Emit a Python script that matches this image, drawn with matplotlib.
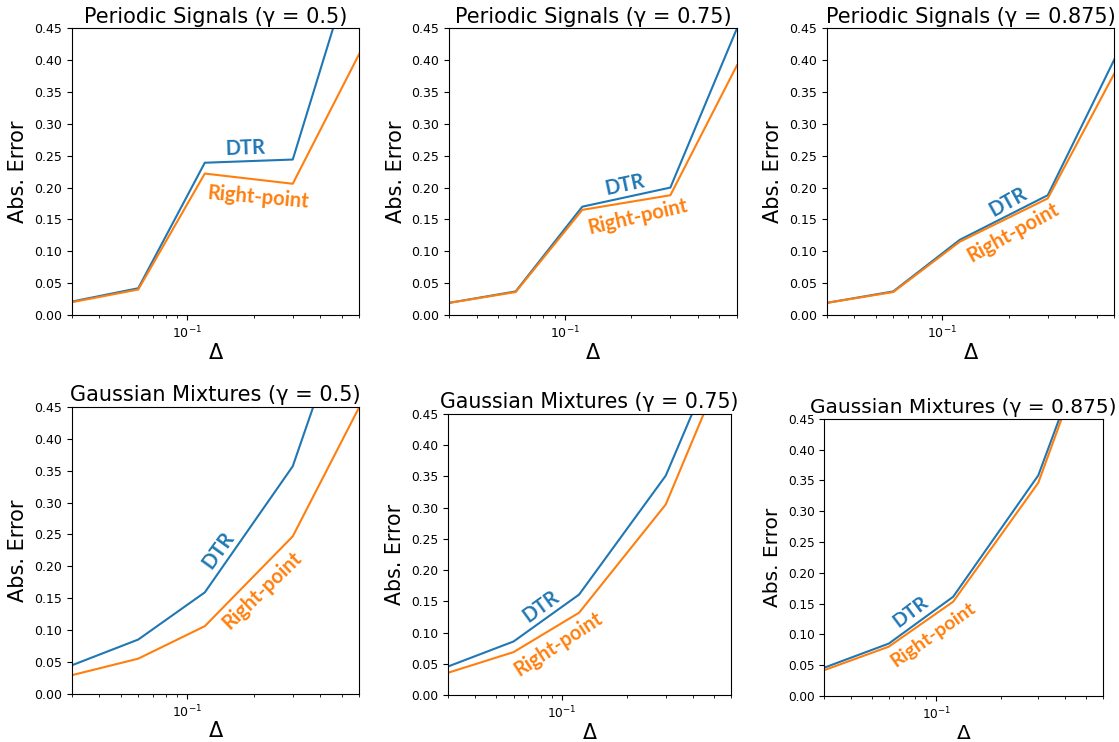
"""
Abs. error of DTR vs right-point rule, periodic signals and Gaussian mixtures.
"""

import matplotlib
matplotlib.use("Agg")
import matplotlib.pyplot as plt
from matplotlib.ticker import NullFormatter

# step sizes on the x axis
delta = [0.03, 0.06, 0.12, 0.3, 0.6]
gammas = ["0.5", "0.75", "0.875"]

# periodic signals
periodic_dtr_050 = [0.021, 0.042, 0.239, 0.244, 0.584]
periodic_rp_050  = [0.020, 0.040, 0.222, 0.206, 0.410]
periodic_dtr_075 = [0.019, 0.037, 0.170, 0.200, 0.450]
periodic_rp_075  = [0.019, 0.036, 0.165, 0.188, 0.392]
periodic_dtr_0875 = [0.019, 0.037, 0.118, 0.188, 0.401]
periodic_rp_0875  = [0.019, 0.036, 0.115, 0.183, 0.379]

# gaussian mixtures
gauss_dtr_050 = [0.0445, 0.085, 0.159, 0.357, 0.660]
gauss_rp_050  = [0.029, 0.055, 0.106, 0.247, 0.450]
gauss_dtr_075 = [0.046, 0.086, 0.161, 0.351, 0.597]
gauss_rp_075  = [0.036, 0.069, 0.132, 0.305, 0.555]
gauss_dtr_0875 = [0.046, 0.085, 0.161, 0.358, 0.640]
gauss_rp_0875  = [0.042, 0.080, 0.153, 0.346, 0.633]

W, H = 1119, 742
BLUE, ORANGE = "#1f77b4", "#ff7f0e"

# (left, right, top, bottom) in pixels, then label placement in axes fraction
panels = [
    ("Periodic Signals", 0, periodic_dtr_050, periodic_rp_050,
     (71.7, 359.3, 28.3, 315.0), (0.603, 0.582, 2), (0.648, 0.411, -5)),
    ("Periodic Signals", 1, periodic_dtr_075, periodic_rp_075,
     (449.0, 737.0, 28.3, 315.0), (0.611, 0.455, 12), (0.656, 0.344, 13)),
    ("Periodic Signals", 2, periodic_dtr_0875, periodic_rp_0875,
     (826.7, 1114.3, 28.3, 315.0), (0.630, 0.394, 29), (0.648, 0.286, 29)),
    ("Gaussian Mixtures", 0, gauss_dtr_050, gauss_rp_050,
     (71.7, 359.3, 407.0, 693.7), (0.509, 0.501, 54), (0.662, 0.362, 44)),
    ("Gaussian Mixtures", 1, gauss_dtr_075, gauss_rp_075,
     (448.0, 731.3, 413.7, 695.3), (0.328, 0.315, 36), (0.388, 0.183, 33)),
    ("Gaussian Mixtures", 2, gauss_dtr_0875, gauss_rp_0875,
     (824.3, 1102.7, 418.7, 696.0), (0.311, 0.303, 37), (0.390, 0.220, 35)),
]

fig = plt.figure(figsize=(W / 100, H / 100), dpi=100)

for name, gi, dtr, rp, (x0, x1, y0, y1), lab_dtr, lab_rp in panels:
    # the panels were pasted in at slightly different scales
    s = (x1 - x0) / 287.6
    ax = fig.add_axes([x0 / W, 1 - y1 / H, (x1 - x0) / W, (y1 - y0) / H])
    ax.plot(delta, dtr, color=BLUE, linewidth=1.5)
    ax.plot(delta, rp, color=ORANGE, linewidth=1.5)
    ax.set_xscale("log")
    ax.set_xlim(0.03, 0.6)
    ax.set_ylim(0, 0.45)
    ax.set_yticks([0.0, 0.05, 0.1, 0.15, 0.2, 0.25, 0.3, 0.35, 0.4, 0.45])
    ax.xaxis.set_minor_formatter(NullFormatter())
    ax.tick_params(labelsize=9 * s)
    ax.set_title(f"{name} (γ = {gammas[gi]})", fontsize=15 * s, pad=4)
    ax.set_xlabel("Δ", fontsize=15 * s, labelpad=1)
    ax.set_ylabel("Abs. Error", fontsize=15 * s)

    ax.text(lab_dtr[0], lab_dtr[1], "DTR", transform=ax.transAxes,
            rotation=lab_dtr[2], color=BLUE, fontsize=14.5 * s, family="Lato",
            weight="bold", ha="center", va="center", rotation_mode="anchor")
    ax.text(lab_rp[0], lab_rp[1], "Right-point", transform=ax.transAxes,
            rotation=lab_rp[2], color=ORANGE, fontsize=14.5 * s, family="Lato",
            weight="bold", ha="center", va="center", rotation_mode="anchor")

fig.savefig("out.png", dpi=100)
